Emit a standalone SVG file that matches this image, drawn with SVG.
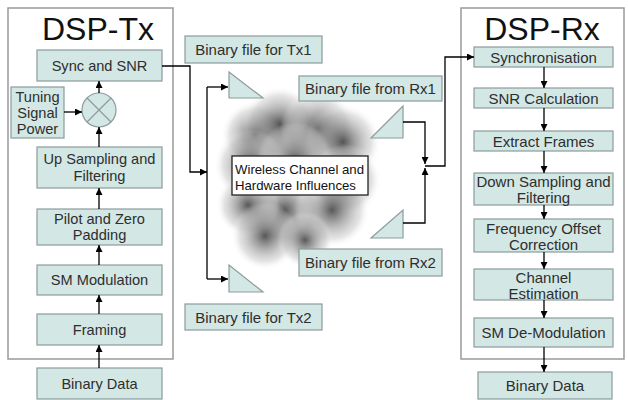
<svg xmlns="http://www.w3.org/2000/svg" width="628" height="400" viewBox="0 0 628 400">
<style>
.frame{fill:#fff;stroke:#9a9a9a;stroke-width:1.5}
.box{fill:#d3e7e5;stroke:#8c9c9c;stroke-width:1.2}
.t{font-family:"Liberation Sans",Arial,sans-serif;font-size:14.6px;fill:#2e2e2e;text-anchor:middle}
.r{font-size:15px}
.title{font-family:"Liberation Sans",Arial,sans-serif;font-size:32px;fill:#111;text-anchor:middle}
.wl{font-family:"Liberation Sans",Arial,sans-serif;font-size:13.2px;fill:#111}
.c{fill:none;stroke:#000;stroke-width:1.3}
.arr{marker-end:url(#ah)}
.b{fill:url(#blob)}
</style>
<defs>
<marker id="ah" viewBox="0 0 10 10" refX="10" refY="5" markerUnits="userSpaceOnUse" markerWidth="9" markerHeight="7" orient="auto">
<path d="M0,0 L10,5 L0,10 z" fill="#000"/>
</marker>
<radialGradient id="blob">
<stop offset="0" stop-color="#3a3a3a" stop-opacity="0.85"/>
<stop offset="0.35" stop-color="#6e6e6e" stop-opacity="0.6"/>
<stop offset="0.75" stop-color="#b0b0b0" stop-opacity="0.35"/>
<stop offset="1" stop-color="#ffffff" stop-opacity="0"/>
</radialGradient>
</defs>

<g id="dsp-tx">
<rect class="frame" x="8" y="8" width="165" height="351"/>
<text class="title" x="98" y="40">DSP-Tx</text>
</g>
<g id="dsp-rx">
<rect class="frame" x="461" y="8" width="163" height="351"/>
<text class="title" x="542" y="40">DSP-Rx</text>
</g>

<g id="cloud">
<circle class="b" cx="255" cy="135" r="34"/>
<circle class="b" cx="280" cy="124" r="38"/>
<circle class="b" cx="318" cy="128" r="38"/>
<circle class="b" cx="343" cy="142" r="38"/>
<circle class="b" cx="250" cy="165" r="36"/>
<circle class="b" cx="295" cy="160" r="38"/>
<circle class="b" cx="345" cy="180" r="36"/>
<circle class="b" cx="285" cy="210" r="38"/>
<circle class="b" cx="332" cy="210" r="38"/>
<circle class="b" cx="248" cy="205" r="32"/>
<circle class="b" cx="265" cy="236" r="34"/>
<circle class="b" cx="305" cy="240" r="28"/>
</g>

<g id="sync-snr"><rect class="box" x="37" y="50" width="125" height="31"/><text class="t" x="99.5" y="70.5">Sync and SNR</text></g>
<g id="tuning"><rect class="box" x="11" y="87" width="53" height="51"/><text class="t" x="37.5" y="102">Tuning</text><text class="t" x="37.5" y="118">Signal</text><text class="t" x="37.5" y="134">Power</text></g>
<g id="mixer"><circle cx="99" cy="110" r="17" fill="#d3e7e5" stroke="#8c9c9c" stroke-width="1.2"/><path d="M87,98 L111,122 M111,98 L87,122" stroke="#8c9c9c" stroke-width="1.2"/></g>
<g id="upsampling"><rect class="box" x="37" y="147" width="125" height="41"/><text class="t" x="99.5" y="164">Up Sampling and</text><text class="t" x="99.5" y="181">Filtering</text></g>
<g id="pilot"><rect class="box" x="37" y="209" width="125" height="36"/><text class="t" x="99.5" y="224">Pilot and Zero</text><text class="t" x="99.5" y="240">Padding</text></g>
<g id="sm-mod"><rect class="box" x="37" y="265" width="125" height="30"/><text class="t" x="99.5" y="285">SM Modulation</text></g>
<g id="framing"><rect class="box" x="37" y="314" width="125" height="31"/><text class="t" x="99.5" y="334.5">Framing</text></g>
<g id="bin-tx"><rect class="box" x="37" y="368" width="125" height="31"/><text class="t" x="99.5" y="388.5">Binary Data</text></g>

<g id="file-tx1"><rect class="box" x="185" y="36" width="137" height="27"/><text class="t r" x="253.5" y="55">Binary file for Tx1</text></g>
<g id="file-tx2"><rect class="box" x="185" y="304" width="137" height="26"/><text class="t r" x="253.5" y="322.5">Binary file for Tx2</text></g>
<g id="file-rx1"><rect class="box" x="299" y="76" width="143" height="25"/><text class="t r" x="370.5" y="94">Binary file from Rx1</text></g>
<g id="file-rx2"><rect class="box" x="299" y="249" width="143" height="27"/><text class="t r" x="370.5" y="268">Binary file from Rx2</text></g>

<g id="ant-tx1"><polygon class="box" points="229,72 229,98 263,98"/></g>
<g id="ant-tx2"><polygon class="box" points="229,265 229,292 263,292"/></g>
<g id="ant-rx1"><polygon class="box" points="371,138 403,106 403,138"/></g>
<g id="ant-rx2"><polygon class="box" points="371,238 403,210 403,238"/></g>

<g id="channel"><rect x="232" y="156" width="136" height="39" fill="#fff" stroke="#222" stroke-width="1.3"/><text class="wl" x="235" y="174">Wireless Channel and</text><text class="wl" x="235" y="190">Hardware Influences</text></g>

<g id="rx-sync"><rect class="box" x="474" y="47" width="139" height="20"/><text class="t r" x="543.5" y="62.5">Synchronisation</text></g>
<g id="rx-snr"><rect class="box" x="474" y="88" width="139" height="20"/><text class="t r" x="543.5" y="103.5">SNR Calculation</text></g>
<g id="rx-extract"><rect class="box" x="474" y="131" width="139" height="20"/><text class="t r" x="543.5" y="146.5">Extract Frames</text></g>
<g id="rx-down"><rect class="box" x="474" y="173" width="139" height="32"/><text class="t r" x="543.5" y="187">Down Sampling and</text><text class="t r" x="543.5" y="203">Filtering</text></g>
<g id="rx-freq"><rect class="box" x="474" y="219" width="139" height="33"/><text class="t r" x="543.5" y="234">Frequency Offset</text><text class="t r" x="543.5" y="250">Correction</text></g>
<g id="rx-chan"><rect class="box" x="474" y="269" width="139" height="31"/><text class="t r" x="543.5" y="283">Channel</text><text class="t r" x="543.5" y="299">Estimation</text></g>
<g id="rx-smdemod"><rect class="box" x="474" y="318" width="139" height="29"/><text class="t r" x="543.5" y="338">SM De-Modulation</text></g>
<g id="bin-rx"><rect class="box" x="478" y="372" width="134" height="27"/><text class="t r" x="545" y="391">Binary Data</text></g>

<g id="connectors">
<path class="c arr" d="M99,368 V345"/>
<path class="c arr" d="M99,314 V295"/>
<path class="c arr" d="M99,265 V245"/>
<path class="c arr" d="M99,209 V188"/>
<path class="c arr" d="M99,147 V127"/>
<path class="c arr" d="M99,93 V81"/>
<path class="c arr" d="M64,112 H82"/>
<path class="c arr" d="M162,66 H190 V172 H207"/>
<path class="c" d="M207,87 V279"/>
<path class="c arr" d="M207,87 H228"/>
<path class="c arr" d="M207,279 H228"/>
<path class="c arr" d="M403,122 H425 V164"/>
<path class="c arr" d="M403,223 H425 V168"/>
<path class="c arr" d="M425,166 H445 V57 H474"/>
<path class="c arr" d="M544,67 V88"/>
<path class="c arr" d="M544,108 V131"/>
<path class="c arr" d="M544,151 V173"/>
<path class="c arr" d="M544,205 V219"/>
<path class="c arr" d="M544,252 V269"/>
<path class="c arr" d="M544,300 V318"/>
<path class="c arr" d="M544,347 V372"/>
</g>
</svg>
